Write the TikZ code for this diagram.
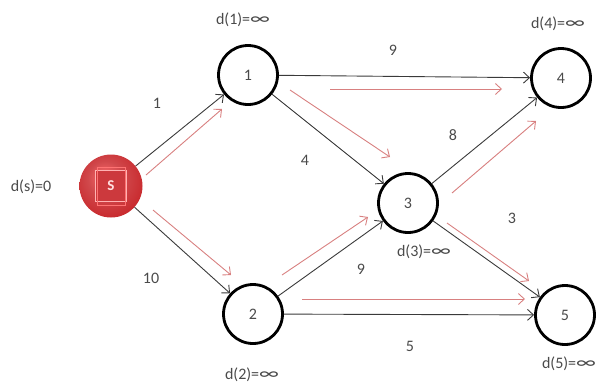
\documentclass[tikz,border=0pt]{standalone}
\usepackage{fontspec}
\setmainfont{Carlito}
\usetikzlibrary{arrows.meta,shadings}
\definecolor{txt}{HTML}{4A4A4A}
\definecolor{edgecol}{HTML}{3A3A3A}
\definecolor{hint}{HTML}{D88080}
\definecolor{srcred}{HTML}{C8282C}
% glossy red fill for the source vertex
\pgfdeclareradialshading{srcball}{\pgfpoint{-6bp}{8bp}}{%
  color(0bp)=(red!55!white!90!srcred); color(14bp)=(srcred!85!white); color(30bp)=(srcred);
  color(42bp)=(srcred!85!black); color(50bp)=(srcred!70!black)}
\newcommand{\infsym}{\scalebox{1.45}[1.1]{∞}}
\begin{document}
\begin{tikzpicture}[x=1pt,y=-1pt,
  vertex/.style={circle,draw=black,line width=2.8pt,minimum size=59pt,inner sep=0pt,
    fill=white,text=txt,font=\fontsize{16}{19}\selectfont},
  lbl/.style={text=txt,font=\fontsize{16}{19}\selectfont,inner sep=0pt},
  tip/.style={-{Straight Barb[length=6pt,width=11pt]}},
  edgeline/.style={draw=edgecol,line width=0.9pt,tip},
  hintline/.style={draw=hint,line width=0.9pt,tip}]
\useasboundingbox (0,0) rectangle (599,384);

% source vertex: red sphere with a bevelled square badge
\node[circle,minimum size=63pt,inner sep=0pt,shading=srcball] (s) at (111,186) {};
\node[draw=red!30!white,line width=1.6pt,fill=srcred!92!white,minimum size=31pt,inner sep=0pt,
  text=red!12!white,font=\fontsize{15}{18}\selectfont\bfseries] (sbadge) at (s) {S};
\draw[red!55!white,line width=0.6pt] ([shift={(2.5pt,-2.5pt)}]sbadge.south west) rectangle ([shift={(-2.5pt,2.5pt)}]sbadge.north east);

% other vertices
\node[vertex] (n1) at (248,75) {1};
\node[vertex] (n2) at (253,314) {2};
\node[vertex] (n3) at (408,203) {3};
\node[vertex] (n4) at (561,78) {4};
\node[vertex] (n5) at (565,315) {5};

% distance labels
\node[lbl] (ds) at (31,187) {d(s)=0};
\node[lbl] (d1) at (243,20) {d(1)=\infsym};
\node[lbl] (d4) at (558,24) {d(4)=\infsym};
\node[lbl] (d3) at (424,252) {d(3)=\infsym};
\node[lbl] (d2) at (252,375) {d(2)=\infsym};
\node[lbl] (d5) at (569,364) {d(5)=\infsym};

% weighted edges
\draw[edgeline] (s) -- (n1);
\draw[edgeline] (s) -- (n2);
\draw[edgeline] (n1) -- (n4);
\draw[edgeline] (n1) -- (n3);
\draw[edgeline] (n3) -- (n4);
\draw[edgeline] (n3) -- (n5);
\draw[edgeline] (n2) -- (n3);
\draw[edgeline] (n2) -- (n5);

% edge weights
\node[lbl] (w1) at (157,103) {1};
\node[lbl] (w10) at (151,278) {10};
\node[lbl] (w9a) at (393,50) {9};
\node[lbl] (w4) at (305,160) {4};
\node[lbl] (w8) at (453,135) {8};
\node[lbl] (w9b) at (361,269) {9};
\node[lbl] (w3) at (512,218) {3};
\node[lbl] (w5) at (410,346) {5};

% relaxation hints beside the edges
\coordinate (h1a) at (146,175); \coordinate (h1b) at (222,109);
\coordinate (h2a) at (153,210); \coordinate (h2b) at (231,275);
\coordinate (h3a) at (290,90);  \coordinate (h3b) at (390,157);
\coordinate (h4a) at (330,89);  \coordinate (h4b) at (502,89);
\coordinate (h5a) at (452,193); \coordinate (h5b) at (536,121);
\coordinate (h6a) at (282,275); \coordinate (h6b) at (368,217);
\coordinate (h7a) at (302,299); \coordinate (h7b) at (525,299);
\coordinate (h8a) at (447,223); \coordinate (h8b) at (529,281);
\foreach \a/\b in {h1a/h1b,h2a/h2b,h3a/h3b,h4a/h4b,h5a/h5b,h6a/h6b,h7a/h7b,h8a/h8b}
  \draw[hintline] (\a) -- (\b);
\end{tikzpicture}
\end{document}
